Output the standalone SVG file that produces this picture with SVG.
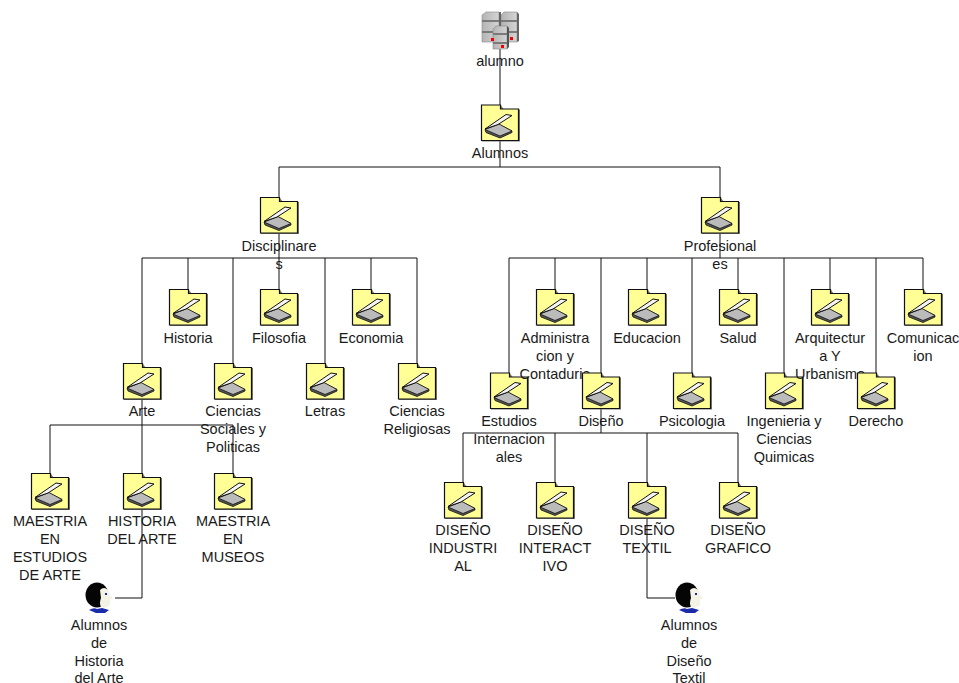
<svg xmlns="http://www.w3.org/2000/svg" width="959" height="683" viewBox="0 0 959 683">
<style>
text{font-family:"Liberation Sans",Arial,sans-serif;font-size:14.5px;fill:#1a1a1a;text-anchor:middle}
.c{fill:none;stroke:#111;stroke-width:1}
</style>
<defs>
<g id="folder">
<path d="M-18 1H1L4 5H20V37H-18Z" fill="#777"/>
<path d="M-18.500 0.500H0.500V4.500H18.500V36H-18.500Z" fill="#ffff96" stroke="#111" stroke-width="1.200"/>
<path d="M-15 25L-14 28L0 33.500L12 28L12 26.500L-1 20Z" fill="#555" stroke="#111" stroke-width=".8"/>
<path d="M-15 25L-1 19.500L12 26.500L0 31.500Z" fill="#bbb" stroke="#111" stroke-width=".8"/>
<path d="M-15 24.500L6 10L12 11L-2 20Z" fill="#f4f4f4" stroke="#111" stroke-width="1"/>
</g>
<g id="person">
<path d="M-10 27Q-5 24-2 26L3 25L10 27L6 30L-3 30Z" fill="#1a2aa8"/>
<ellipse cx="-2" cy="12" rx="11.500" ry="12.500" fill="#050505"/>
<path d="M1 7Q5 3 9 7L11 12L14 15L11 17L11 22Q7 26 2 24Q0 20 2 15Z" fill="#f5f2e6"/>
<rect x="6" y="10" width="2" height="2" fill="#1a2aa8"/>
</g>
<linearGradient id="srv" x1="0" x2="1" y1="0" y2="0"><stop offset="0" stop-color="#b4b4b4"/><stop offset="1" stop-color="#d4d4d4"/></linearGradient>
<g id="server">
<path d="M-18 3L-14 0H-1V30L-18 30Z" fill="url(#srv)" stroke="#888" stroke-width=".6"/>
<path d="M1 3L4 0H17V30H1Z" fill="url(#srv)" stroke="#888" stroke-width=".6"/>
<path d="M-1 0H1V30H-1ZM17 0L19 2V29L17 30Z" fill="#666"/>
<path d="M-18 8H-1V10H-18ZM-18 19H-1V21H-18ZM1 8H17V10H1ZM1 19H17V21H1Z" fill="#7a7a7a"/>
<path d="M-7 17L-4 14H7V37H-7Z" fill="url(#srv)" stroke="#888" stroke-width=".6"/>
<path d="M7 14L9 16V35L7 37Z" fill="#555"/>
<path d="M-7 21H7V23H-7ZM-7 30H7V32H-7Z" fill="#7a7a7a"/>
<rect x="-9" y="26" width="3" height="3" fill="#e00"/><rect x="10" y="25" width="3" height="3" fill="#e00"/><rect x="1" y="33" width="3" height="3" fill="#e00"/>
</g>
</defs>
<g id="connectors">
<path class="c" d="M500 48V167M279 167H720M279 167V197M720 167V197"/>
<path class="c" d="M279 233V258M142 258H417M142 258V363M188 258V289M233 258V363M279 258V289M325 258V363M371 258V289M417 258V363"/>
<path class="c" d="M142 399V598H115M50 425H233M50 425V473M233 425V473"/>
<path class="c" d="M720 233V258M509 258H923M509 258V373M555 258V289M601 258V373M647 258V289M692 258V373M738 258V289M784 258V373M830 258V289M876 258V373M923 258V289"/>
<path class="c" d="M601 408V433M463 433H738M463 433V482M555 433V482M647 433V482M738 433V482M647 518V598H675"/>
</g>
<g id="n-alumno"><use href="#server" x="500" y="12"/><text x="500" y="66">alumno</text></g>
<g id="n-alumnos"><use href="#folder" x="500" y="104.500"/><text x="500" y="158">Alumnos</text></g>
<g id="n-disciplinares"><use href="#folder" x="279" y="197"/><text x="279" y="251">Disciplinare</text><text x="279" y="269">s</text></g>
<g id="n-profesionales"><use href="#folder" x="720" y="197"/><text x="720" y="251">Profesional</text><text x="720" y="269">es</text></g>
<g id="n-historia"><use href="#folder" x="188" y="289"/><text x="188" y="343">Historia</text></g>
<g id="n-filosofia"><use href="#folder" x="279" y="289"/><text x="279" y="343">Filosofia</text></g>
<g id="n-economia"><use href="#folder" x="371" y="289"/><text x="371" y="343">Economia</text></g>
<g id="n-arte"><use href="#folder" x="142" y="363"/><text x="142" y="416">Arte</text></g>
<g id="n-ciencias-soc"><use href="#folder" x="233" y="363"/><text x="233" y="416">Ciencias</text><text x="233" y="434">Sociales y</text><text x="233" y="452">Politicas</text></g>
<g id="n-letras"><use href="#folder" x="325" y="363"/><text x="325" y="416">Letras</text></g>
<g id="n-ciencias-rel"><use href="#folder" x="417" y="363"/><text x="417" y="416">Ciencias</text><text x="417" y="434">Religiosas</text></g>
<g id="n-maestria-est"><use href="#folder" x="50" y="473"/><text x="50" y="526">MAESTRIA</text><text x="50" y="544">EN</text><text x="50" y="562">ESTUDIOS</text><text x="50" y="580">DE ARTE</text></g>
<g id="n-historia-arte"><use href="#folder" x="142" y="473"/><text x="142" y="526">HISTORIA</text><text x="142" y="544">DEL ARTE</text></g>
<g id="n-maestria-mus"><use href="#folder" x="233" y="473"/><text x="233" y="526">MAESTRIA</text><text x="233" y="544">EN</text><text x="233" y="562">MUSEOS</text></g>
<g id="n-alumnos-historia"><use href="#person" x="99" y="583"/><text x="99" y="630">Alumnos</text><text x="99" y="648">de</text><text x="99" y="665.500">Historia</text><text x="99" y="682.500">del Arte</text></g>
<g id="n-estudios"><use href="#folder" x="509" y="372.500"/><text x="509" y="426">Estudios</text><text x="509" y="444">Internacion</text><text x="509" y="462">ales</text></g>
<g id="n-ingenieria"><use href="#folder" x="784" y="372.500"/><text x="784" y="426">Ingenieria y</text><text x="784" y="444">Ciencias</text><text x="784" y="462">Quimicas</text></g>
<g id="n-admin"><use href="#folder" x="555" y="289"/><text x="555" y="343">Administra</text><text x="555" y="361">cion y</text><text x="555" y="379">Contaduria</text></g>
<g id="n-educacion"><use href="#folder" x="647" y="289"/><text x="647" y="343">Educacion</text></g>
<g id="n-salud"><use href="#folder" x="738" y="289"/><text x="738" y="343">Salud</text></g>
<g id="n-arq"><use href="#folder" x="830" y="289"/><text x="830" y="343">Arquitectur</text><text x="830" y="361">a Y</text><text x="830" y="379">Urbanismo</text></g>
<g id="n-com"><use href="#folder" x="923" y="289"/><text x="923" y="343">Comunicac</text><text x="923" y="361">ion</text></g>
<g id="n-diseno"><use href="#folder" x="601" y="372.500"/><text x="601" y="426">Diseño</text></g>
<g id="n-psicologia"><use href="#folder" x="692" y="372.500"/><text x="692" y="426">Psicologia</text></g>
<g id="n-derecho"><use href="#folder" x="876" y="372.500"/><text x="876" y="426">Derecho</text></g>
<g id="n-industrial"><use href="#folder" x="463" y="482"/><text x="463" y="535">DISEÑO</text><text x="463" y="553">INDUSTRI</text><text x="463" y="571">AL</text></g>
<g id="n-interactivo"><use href="#folder" x="555" y="482"/><text x="555" y="535">DISEÑO</text><text x="555" y="553">INTERACT</text><text x="555" y="571">IVO</text></g>
<g id="n-textil"><use href="#folder" x="647" y="482"/><text x="647" y="535">DISEÑO</text><text x="647" y="553">TEXTIL</text></g>
<g id="n-grafico"><use href="#folder" x="738" y="482"/><text x="738" y="535">DISEÑO</text><text x="738" y="553">GRAFICO</text></g>
<g id="n-alumnos-textil"><use href="#person" x="689" y="583"/><text x="689" y="630">Alumnos</text><text x="689" y="648">de</text><text x="689" y="665.500">Diseño</text><text x="689" y="682.500">Textil</text></g>
</svg>
